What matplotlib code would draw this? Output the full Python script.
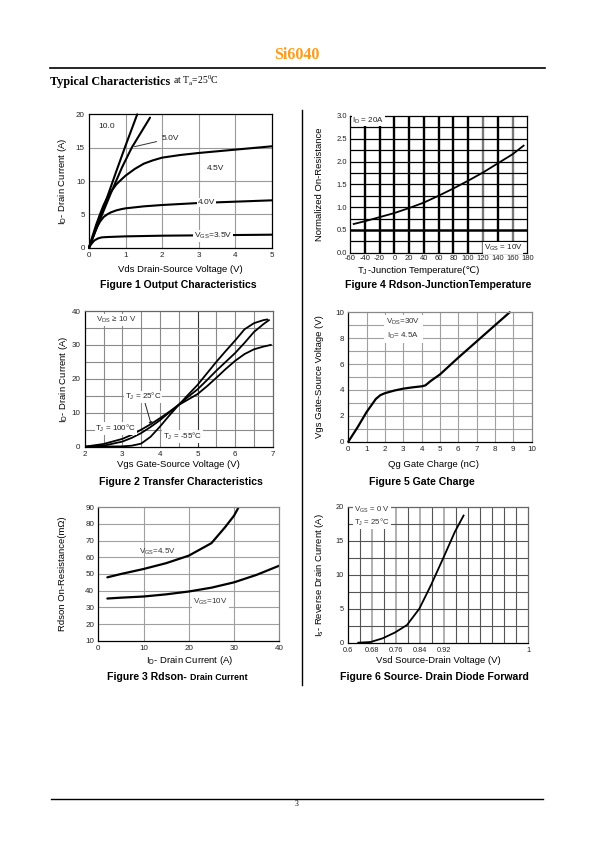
import matplotlib
matplotlib.use("Agg")
import matplotlib.pyplot as plt
import numpy as np
from matplotlib.lines import Line2D

plt.rcParams['font.family'] = ['Liberation Sans', 'DejaVu Sans']
plt.rcParams['mathtext.fontset'] = 'custom'
plt.rcParams['mathtext.rm'] = 'Liberation Sans'
plt.rcParams['mathtext.it'] = 'Liberation Sans:italic'
plt.rcParams['mathtext.bf'] = 'Liberation Sans:bold'
plt.rcParams['axes.unicode_minus'] = False

# ---------------- data ----------------
# Figure 1 Output characteristics
vds_10 = [0, 0.25, 0.5, 0.75, 1.0, 1.32]
id_10 = [0, 3.8, 7.6, 11.5, 15.3, 20]
vds_5 = [0, 0.3, 0.6, 0.9, 1.17, 1.67]
id_5 = [0, 4.2, 8.2, 12.0, 15.0, 19.5]
vds_45 = [0, 0.1, 0.2, 0.3, 0.4, 0.5, 0.6, 0.75, 0.9, 1, 1.25, 1.5, 1.75, 2, 2.5, 3, 3.5, 4, 4.5, 5]
id_45 = [0, 1.8, 3.5, 5.0, 6.4, 7.5, 8.4, 9.5, 10.3, 10.8, 11.8, 12.6, 13.1, 13.5, 13.9, 14.2, 14.45, 14.7, 14.95, 15.2]
vds_40 = [0, 0.1, 0.2, 0.3, 0.4, 0.5, 0.6, 0.75, 0.9, 1, 1.5, 2, 3, 4, 5]
id_40 = [0, 1.5, 2.9, 3.9, 4.6, 5.0, 5.3, 5.6, 5.8, 5.9, 6.2, 6.4, 6.7, 6.9, 7.1]
vds_35 = [0, 0.05, 0.1, 0.15, 0.25, 0.35, 0.5, 1, 2, 3, 4, 5]
id_35 = [0, 0.45, 0.8, 1.1, 1.4, 1.55, 1.6, 1.7, 1.8, 1.85, 1.9, 1.95]

# Figure 4 Rdson vs junction temperature
tj = [-55, -40, -20, 0, 20, 40, 60, 80, 100, 120, 140, 160, 175]
rnorm = [0.63, 0.69, 0.78, 0.87, 0.98, 1.10, 1.25, 1.41, 1.58, 1.76, 1.96, 2.16, 2.35]

# Figure 2 Transfer characteristics
vgs_m55 = [2, 3, 3.25, 3.5, 3.75, 4, 4.25, 4.5, 4.75, 5, 5.25, 5.5, 5.75, 6, 6.25, 6.5, 6.75, 6.85]
id_m55 = [0, 0.1, 0.3, 0.9, 2.9, 5.9, 9.2, 12.3, 15.3, 18.2, 21.6, 25, 28.2, 31.3, 34.6, 36.4, 37.3, 37.5]
vgs_25 = [2, 2.5, 3, 3.25, 3.5, 3.75, 4, 4.25, 4.5, 4.75, 5, 5.25, 5.5, 5.75, 6, 6.25, 6.5, 6.75, 6.9]
id_25 = [0, 0.3, 1.5, 2.6, 4.0, 5.8, 7.8, 10.1, 12.4, 14.7, 16.9, 19.6, 22.4, 25, 27.6, 30.6, 33.8, 36.1, 37.3]
vgs_100 = [2, 2.5, 3, 3.25, 3.5, 3.75, 4, 4.25, 4.5, 4.75, 5, 5.25, 5.5, 5.75, 6, 6.25, 6.5, 6.75, 6.95]
id_100 = [0, 0.8, 2.3, 3.5, 5.0, 6.6, 8.4, 10.3, 12.3, 13.9, 15.5, 17.8, 20.3, 22.9, 25.3, 27.3, 28.7, 29.5, 30]

# Figure 5 Gate charge
qg = [0, 0.5, 1, 1.5, 1.75, 2, 2.5, 3, 3.5, 4, 4.2, 4.5, 5, 5.5, 6, 7, 8, 8.8]
vgs_q = [0, 1.1, 2.3, 3.3, 3.6, 3.75, 3.95, 4.1, 4.2, 4.28, 4.35, 4.7, 5.2, 5.85, 6.5, 7.75, 9.0, 10]

# Figure 3 Rdson vs drain current
id_r45 = [2, 5, 10, 15, 20, 25, 28, 30, 31]
r_45 = [48, 50, 53, 56.5, 61, 68.5, 78, 85, 90]
id_r10 = [2, 5, 10, 15, 20, 25, 30, 35, 40]
r_10 = [35.3, 35.8, 36.5, 37.8, 39.5, 41.8, 45, 49.5, 55]

# Figure 6 Source-drain diode forward
vsd = [0.635, 0.676, 0.716, 0.757, 0.797, 0.838, 0.877, 0.917, 0.956, 0.985]
isd = [0, 0.1, 0.64, 1.5, 2.6, 5.0, 8.5, 12.4, 16.3, 18.7]
vsd_ticks = [0.6, 0.68, 0.76, 0.84, 0.92, 1.2]
vsd_ticklabels = ['0.6', '0.68', '0.76', '0.84', '0.92', '1']

# ---------------- layout ----------------
W, H = 595, 842
fig = plt.figure(figsize=(W / 100, H / 100), dpi=100)
renderer = fig.canvas.get_renderer()


def fx(x):
    return x / W


def fy(y):
    return 1 - y / H


def add_ax(l, t, r, b):
    return fig.add_axes([l / W, 1 - b / H, (r - l) / W, (b - t) / H])


def seq_text(parts, x, y, center=True):
    """parts: list of (string, kwargs); drawn one after another on a line."""
    arts = []
    widths = []
    for s, kw in parts:
        t = fig.text(0, fy(y), s, ha='left', va='baseline', **kw)
        widths.append(t.get_window_extent(renderer).width)
        arts.append(t)
    total = sum(widths)
    start = x - total / 2 if center else x
    for t, w in zip(arts, widths):
        t.set_x(fx(start))
        start += w
    return arts


GRID = '#9a9a9a'
TICK_FS = 5.8
LAB_FS = 6.8
CAP_FS = 7.6
LW = 1.5


def style(ax, frame='black'):
    ax.tick_params(labelsize=TICK_FS, length=0, pad=3, colors='#222222')
    for s in ax.spines.values():
        s.set_color(frame)
        s.set_linewidth(0.9)
    ax.set_axisbelow(True)


def hgrid(ax, ys, color=GRID, lw=0.8):
    for y in ys:
        ax.axhline(y, color=color, lw=lw, zorder=0)


def vgrid(ax, xs, color=GRID, lw=0.8, ymax=1.0):
    for x in xs:
        ax.axvline(x, color=color, lw=lw, zorder=0, ymax=ymax)


# header
fig.text(fx(297), fy(55), 'Si6040', ha='center', va='center', color='#FF9A1A',
         fontsize=11.5, fontweight='bold', family='Liberation Serif')
fig.add_artist(Line2D([fx(50), fx(545)], [fy(68), fy(68)], color='black', lw=1.2))
seq_text([('Typical Characteristics ', dict(fontsize=8.7, fontweight='bold', family='Liberation Serif')),
          (r'at T$_\mathregular{a}$=25$^\mathregular{0}$C', dict(fontsize=6.9, family='Liberation Serif',
                                                               math_fontfamily='stix'))],
         50, 84.5, center=False)
# separator and footer
fig.add_artist(Line2D([fx(301.7), fx(301.7)], [fy(110), fy(685)], color='black', lw=1.0))
fig.add_artist(Line2D([fx(51), fx(543)], [fy(799), fy(799)], color='black', lw=1.0))
fig.text(fx(297), fy(804), '3', ha='center', va='center', fontsize=5.5, family='Liberation Serif')

# ---------- Figure 1 ----------
ax1 = add_ax(89, 114.3, 271.7, 247.7)
style(ax1)
ax1.set_xlim(0, 5)
ax1.set_ylim(0, 20)
ax1.set_xticks([0, 1, 2, 3, 4, 5])
ax1.set_yticks([0, 5, 10, 15, 20])
vgrid(ax1, [1, 2, 3, 4])
hgrid(ax1, [5, 10, 15])
for xs, ys in [(vds_10, id_10), (vds_5, id_5), (vds_45, id_45), (vds_40, id_40), (vds_35, id_35)]:
    ax1.plot(xs, ys, color='black', lw=LW, solid_capstyle='round', clip_on=False)
ax1.text(0.47, 18.2, '10.0', fontsize=6, ha='center', va='center', color='#222222')
ax1.annotate('5.0V', xy=(1.17, 15.05), xytext=(2.0, 16.4), fontsize=6, ha='left', va='center',
             color='#222222', arrowprops=dict(arrowstyle='-', color='#333333', lw=0.7))
ax1.text(3.45, 11.8, '4.5V', fontsize=6, ha='center', va='center', color='#222222')
ax1.text(3.22, 6.75, '4.0V', fontsize=6, ha='center', va='center', color='#222222',
         bbox=dict(facecolor='white', edgecolor='none', pad=0.6))
ax1.text(3.4, 1.75, r'V$_\mathregular{GS}$=3.5V', fontsize=6, ha='center', va='center', color='#222222',
         bbox=dict(facecolor='white', edgecolor='none', pad=0.6))
fig.text(fx(62.7), fy(181), r'I$_\mathregular{D}$- Drain Current (A)', rotation=90, ha='center', va='center', fontsize=LAB_FS)
fig.text(fx(180), fy(270), 'Vds Drain-Source Voltage (V)', ha='center', va='center', fontsize=LAB_FS)
fig.text(fx(178), fy(285), 'Figure 1 Output Characteristics', ha='center', va='center', fontsize=CAP_FS, fontweight='bold')

# ---------- Figure 4 ----------
ax4 = add_ax(350, 116, 527.3, 252.7)
style(ax4)
ax4.set_xlim(-60, 180)
ax4.set_ylim(0, 3.0)
ax4.set_xticks(list(range(-60, 181, 20)))
ax4.set_yticks([0, 0.5, 1.0, 1.5, 2.0, 2.5, 3.0])
ax4.set_yticklabels(['0.0', '0.5', '1.0', '1.5', '2.0', '2.5', '3.0'])
ax4.tick_params(labelsize=5.5, pad=2)
vgrid(ax4, [-40, -20], color='black', lw=1.7, ymax=2.78 / 3)
vgrid(ax4, [0, 20, 40, 60, 80, 100, 140], color='black', lw=1.7)
vgrid(ax4, [120, 160], color='#7a7a7a', lw=1.7)
hgrid(ax4, [0.25, 0.75, 1.0, 1.25, 1.5, 1.75, 2.0, 2.25, 2.5, 2.75], color='black', lw=0.9)
hgrid(ax4, [0.5], color='black', lw=1.8)
ax4.plot(tj, rnorm, color='black', lw=1.3, zorder=3)
ax4.text(-57, 2.9, r'I$_\mathregular{D}$ = 20A', fontsize=5.8, ha='left', va='center', color='#222222',
         bbox=dict(facecolor='white', edgecolor='none', pad=0.4), zorder=4)
ax4.text(174, 0.1, r'V$_\mathregular{GS}$ = 10V', fontsize=5.8, ha='right', va='center', color='#222222',
         bbox=dict(facecolor='white', edgecolor='none', pad=0.4), zorder=4)
fig.text(fx(320), fy(184), 'Normalized On-Resistance', rotation=90, ha='center', va='center', fontsize=LAB_FS)
seq_text([(r'T$_\mathregular{J}$', dict(fontsize=LAB_FS)),
          ('-Junction Temperature(℃)', dict(fontsize=LAB_FS))], 418, 273)
fig.text(fx(438), fy(285), 'Figure 4 Rdson-JunctionTemperature', ha='center', va='center', fontsize=CAP_FS, fontweight='bold')

# ---------- Figure 2 ----------
ax2 = add_ax(84.7, 311, 272.7, 446.7)
style(ax2, frame='#666666')
ax2.spines['left'].set_color('black')
ax2.spines['bottom'].set_color('black')
ax2.set_xlim(2, 7)
ax2.set_ylim(0, 40)
ax2.set_xticks([2, 3, 4, 5, 6, 7])
ax2.set_yticks([0, 10, 20, 30, 40])
vgrid(ax2, [2.5, 3, 3.5, 4, 4.5, 5.5, 6, 6.5], color='#8a8a8a')
vgrid(ax2, [5], color='#333333')
hgrid(ax2, [5, 10, 15, 20, 25, 30, 35], color='#8a8a8a')
ax2.plot(vgs_m55, id_m55, color='black', lw=1.3)
ax2.plot(vgs_25, id_25, color='black', lw=1.3)
ax2.plot(vgs_100, id_100, color='black', lw=1.3)
ax2.text(2.3, 37.3, r'V$_\mathregular{DS}$ ≥ 10 V', fontsize=5.8, ha='left', va='center', color='#333333',
         bbox=dict(facecolor='white', edgecolor='none', pad=0.6))
ax2.annotate(r'T$_\mathregular{J}$ = 25°C', xy=(3.78, 6.2), xytext=(3.07, 14.7), fontsize=5.8, ha='left', va='center',
             color='#222222', bbox=dict(facecolor='white', edgecolor='none', pad=0.5),
             arrowprops=dict(arrowstyle='-|>', color='#222222', lw=0.7, mutation_scale=5, shrinkA=0, shrinkB=0))
ax2.text(2.28, 5.3, r'T$_\mathregular{J}$ = 100°C', fontsize=5.8, ha='left', va='center', color='#222222',
         bbox=dict(facecolor='white', edgecolor='none', pad=0.5))
ax2.text(4.08, 3.1, r'T$_\mathregular{J}$ = -55°C', fontsize=5.8, ha='left', va='center', color='#222222',
         bbox=dict(facecolor='white', edgecolor='none', pad=0.5))
fig.text(fx(63.3), fy(379), r'I$_\mathregular{D}$- Drain Current (A)', rotation=90, ha='center', va='center', fontsize=LAB_FS)
fig.text(fx(178), fy(465), 'Vgs Gate-Source Voltage (V)', ha='center', va='center', fontsize=LAB_FS)
fig.text(fx(180.5), fy(481.7), 'Figure 2 Transfer Characteristics', ha='center', va='center', fontsize=CAP_FS, fontweight='bold')

# ---------- Figure 5 ----------
ax5 = add_ax(348.3, 312.3, 531.7, 441.7)
style(ax5, frame='#888888')
ax5.spines['left'].set_color('black')
ax5.spines['bottom'].set_color('black')
ax5.set_xlim(0, 10)
ax5.set_ylim(0, 10)
ax5.set_xticks(list(range(0, 11)))
ax5.set_yticks([0, 2, 4, 6, 8, 10])
vgrid(ax5, list(range(1, 10)), color='#a0a0a0')
hgrid(ax5, list(range(1, 10)), color='#a0a0a0')
ax5.plot(qg, vgs_q, color='black', lw=1.6, solid_capstyle='round', clip_on=False)
ax5.text(3.0, 8.7, r'V$_\mathregular{DS}$=30V' + '\n' + r'I$_\mathregular{D}$= 4.5A', fontsize=5.8, ha='center', va='center',
         color='#333333', linespacing=1.5, bbox=dict(facecolor='white', edgecolor='none', pad=1.5))
fig.text(fx(320), fy(377), 'Vgs Gate-Source Voltage (V)', rotation=90, ha='center', va='center', fontsize=LAB_FS)
fig.text(fx(433), fy(465), 'Qg Gate Charge (nC)', ha='center', va='center', fontsize=LAB_FS)
fig.text(fx(422), fy(481.7), 'Figure 5 Gate Charge', ha='center', va='center', fontsize=CAP_FS, fontweight='bold')

# ---------- Figure 3 ----------
ax3 = add_ax(98.3, 507.3, 279.3, 640.7)
style(ax3, frame='#888888')
ax3.spines['left'].set_color('black')
ax3.spines['bottom'].set_color('black')
ax3.set_xlim(0, 40)
ax3.set_ylim(10, 90)
ax3.set_xticks([0, 10, 20, 30, 40])
ax3.set_yticks(list(range(10, 91, 10)))
vgrid(ax3, [10, 20, 30], color='#a0a0a0')
hgrid(ax3, list(range(20, 90, 10)), color='#a0a0a0')
ax3.plot(id_r45, r_45, color='black', lw=1.6, solid_capstyle='round')
ax3.plot(id_r10, r_10, color='black', lw=1.6, solid_capstyle='round')
ax3.text(13, 63.5, r'V$_\mathregular{GS}$=4.5V', fontsize=5.8, ha='center', va='center', color='#333333')
ax3.text(24.8, 33, r'V$_\mathregular{GS}$=10V', fontsize=5.8, ha='center', va='center', color='#333333',
         bbox=dict(facecolor='white', edgecolor='none', pad=1.0))
fig.text(fx(62.7), fy(574), 'Rdson On-Resistance(mΩ)', rotation=90, ha='center', va='center', fontsize=LAB_FS)
fig.text(fx(190), fy(660.7), r'I$_\mathregular{D}$- Drain Current (A)', ha='center', va='center', fontsize=LAB_FS)
seq_text([('Figure 3 Rdson- ', dict(fontsize=CAP_FS, fontweight='bold')),
          ('Drain Current', dict(fontsize=6.4, fontweight='bold'))], 177, 679.5)

# ---------- Figure 6 ----------
ax6 = add_ax(347.7, 506.7, 528.3, 642.7)
style(ax6, frame='#666666')
ax6.spines['left'].set_color('black')
ax6.spines['bottom'].set_color('black')
ax6.set_xlim(0.6, 1.2)
ax6.set_ylim(0, 20)
ax6.set_xticks(vsd_ticks)
ax6.set_xticklabels(vsd_ticklabels)
ax6.set_yticks([0, 5, 10, 15, 20])
ax6.tick_params(labelsize=5.3)
vgrid(ax6, [0.64, 0.72, 0.80, 0.88, 0.96, 1.0, 1.04, 1.08, 1.12, 1.16], color='#555555')
vgrid(ax6, [0.68, 0.76, 0.84, 0.92], color='#b0b0b0', lw=1.4)
hgrid(ax6, [2.5, 5, 7.5, 10, 12.5, 15, 17.5], color='#555555')
ax6.plot(vsd, isd, color='black', lw=1.3)
ax6.text(0.62, 18.6, r'V$_\mathregular{GS}$ = 0 V' + '\n' + r'T$_\mathregular{J}$ = 25°C', fontsize=5.6, ha='left', va='center',
         color='#333333', linespacing=1.2, bbox=dict(facecolor='white', edgecolor='none', pad=0.8))
fig.text(fx(320), fy(575), r'I$_\mathregular{s}$- Reverse Drain Current (A)', rotation=90, ha='center', va='center', fontsize=LAB_FS)
fig.text(fx(438), fy(660.7), 'Vsd Source-Drain Voltage (V)', ha='center', va='center', fontsize=LAB_FS)
fig.text(fx(434.5), fy(677), 'Figure 6 Source- Drain Diode Forward', ha='center', va='center', fontsize=CAP_FS, fontweight='bold')

fig.savefig('out.png', dpi=100)
